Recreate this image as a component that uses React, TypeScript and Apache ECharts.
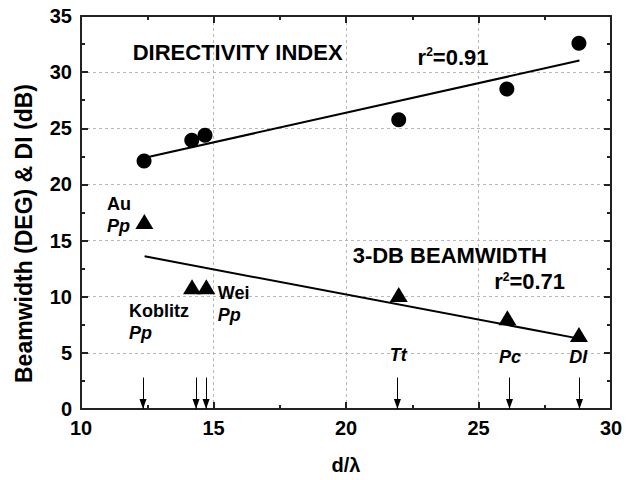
import React, { useEffect, useRef } from "react";
import * as echarts from "echarts";

// Directivity index (circles)
const diX = [12.38, 14.18, 14.68, 21.99, 26.07, 28.79];
const diY = [22.08, 23.94, 24.38, 25.77, 28.49, 32.57];
// 3-dB beamwidth (triangles)
const bwX = [12.39, 14.19, 14.73, 21.99, 26.09, 28.79];
const bwY = [16.7, 10.88, 10.88, 10.19, 8.13, 6.64];
// fitted lines (end points)
const diFitX = [12.45, 28.81];
const diFitY = [22.4, 31.03];
const bwFitX = [12.4, 28.95];
const bwFitY = [13.6, 6.2];
// arrows marking the d/lambda of each array
const arrowX = [12.34, 14.34, 14.72, 21.94, 26.17, 28.81];
const arrowTop = 2.8;
const arrowBottom = 0;

// annotations
const annoText = [
  "{h|DIRECTIVITY INDEX}",
  "{h|r}{s|2}{h|=0.91}",
  "{h|3-DB BEAMWIDTH}",
  "{h|r}{s|2}{h|=0.71}",
  "{n|Au}\n{i|Pp}",
  "{n|Koblitz}\n{i|Pp}",
  "{n|Wei}\n{i|Pp}",
  "{i|Tt}",
  "{i|Pc}",
  "{i|DI}",
];
const annoX = [11.97, 22.72, 20.27, 25.61, 11.0, 11.83, 15.18, 21.99, 26.21, 28.78];
const annoY = [31.68, 31.27, 13.67, 11.3, 17.26, 7.73, 9.28, 4.79, 4.58, 4.58];
const annoAlign = ["left", "left", "left", "left", "left", "left", "left", "center", "center", "center"];

const xMin = 10;
const xMax = 30;
const xStep = 5;
const yMin = 0;
const yMax = 35;
const yStep = 5;

const FONT = "'Liberation Sans', Arial, Helvetica, sans-serif";
const INK = "#000";

export default function App() {
  const ref = useRef<HTMLDivElement>(null);
  useEffect(() => {
    if (!ref.current) return;
    const chart = echarts.init(ref.current, undefined, { renderer: "svg" });

    const axisBase = (show: boolean) => ({
      axisLine: { show: true, onZero: false, lineStyle: { color: "#222", width: 2 } },
      axisTick: { show: true, inside: true, length: 7, lineStyle: { color: "#222", width: 2 } },
      minorTick: { show: true, splitNumber: 2, length: 4, lineStyle: { color: "#222", width: 2 } },
      axisLabel: {
        show,
        fontFamily: FONT,
        fontSize: 20,
        fontWeight: "bold",
        color: INK,
        margin: 9,
      },
      splitLine: show
        ? { show: true, lineStyle: { color: "#b8b8b8", width: 1, type: [3, 3] } }
        : { show: false },
      minorSplitLine: { show: false },
    });

    const richStyles = {
      h: { fontFamily: FONT, fontSize: 22, fontWeight: "bold", color: INK },
      s: { fontFamily: FONT, fontSize: 12, fontWeight: "bold", color: INK, verticalAlign: "top", padding: [0, 0, 10, 0] },
      n: { fontFamily: FONT, fontSize: 18, fontWeight: "bold", color: INK, lineHeight: 22 },
      i: { fontFamily: FONT, fontSize: 18, fontWeight: "bold", fontStyle: "italic", color: INK, lineHeight: 22 },
    };

    const annoData = annoText.map((t, k) => ({
      value: [annoX[k], annoY[k]],
      label: {
        show: true,
        formatter: t,
        position: [0, 0],
        align: annoAlign[k],
        verticalAlign: "middle",
        rich: richStyles,
      },
    }));

    const option: any = {
      animation: false,
      backgroundColor: "#fff",
      grid: { left: 81, right: 23, top: 16, bottom: 69, containLabel: false },
      xAxis: [
        {
          type: "value",
          min: xMin,
          max: xMax,
          interval: xStep,
          position: "bottom",
          name: "d/λ",
          nameLocation: "middle",
          nameGap: 46,
          nameTextStyle: { fontFamily: FONT, fontSize: 20, fontWeight: "bold", color: INK },
          ...axisBase(true),
        },
        {
          type: "value",
          min: xMin,
          max: xMax,
          interval: xStep,
          position: "top",
          ...axisBase(false),
        },
      ],
      yAxis: [
        {
          type: "value",
          min: yMin,
          max: yMax,
          interval: yStep,
          position: "left",
          name: "Beamwidth (DEG) & DI (dB)",
          nameLocation: "middle",
          nameGap: 46,
          nameTextStyle: {
            fontFamily: FONT,
            fontSize: 23,
            fontWeight: "bold",
            color: INK,
            padding: [0, 42, 0, 0],
          },
          ...axisBase(true),
        },
        {
          type: "value",
          min: yMin,
          max: yMax,
          interval: yStep,
          position: "right",
          ...axisBase(false),
        },
      ],
      series: [
        {
          type: "line",
          name: "DI fit",
          data: diFitX.map((x, k) => [x, diFitY[k]]),
          symbol: "none",
          lineStyle: { color: "#000", width: 2 },
          z: 3,
        },
        {
          type: "line",
          name: "BW fit",
          data: bwFitX.map((x, k) => [x, bwFitY[k]]),
          symbol: "none",
          lineStyle: { color: "#000", width: 2 },
          z: 3,
        },
        {
          type: "scatter",
          name: "Directivity index",
          data: diX.map((x, k) => [x, diY[k]]),
          symbol: "circle",
          symbolSize: 15,
          itemStyle: { color: "#000", opacity: 1 },
          z: 4,
        },
        {
          type: "scatter",
          name: "3-dB beamwidth",
          data: bwX.map((x, k) => [x, bwY[k]]),
          symbol: "triangle",
          symbolSize: [18, 15],
          itemStyle: { color: "#000", opacity: 1 },
          z: 4,
        },
        {
          type: "scatter",
          name: "arrows",
          data: [],
          markLine: {
            silent: true,
            symbol: ["none", "triangle"],
            symbolSize: [7, 10],
            symbolOffset: [0, [0, 5]],
            label: { show: false },
            lineStyle: { color: "#000", width: 1, type: "solid", opacity: 1 },
            itemStyle: { color: "#000", opacity: 1 },
            data: arrowX.map((x) => [
              { coord: [x, arrowTop] },
              { coord: [x, arrowBottom] },
            ]),
          },
          z: 3,
        },
        {
          type: "scatter",
          name: "annotations",
          data: annoData,
          symbolSize: 1,
          itemStyle: { color: "#fff", opacity: 1 },
          z: 5,
        },
      ],
    };
    chart.setOption(option);
    return () => chart.dispose();
  }, []);
  return <div ref={ref} style={{ width: 634, height: 480, position: "absolute", left: 0, top: 0 }} />;
}
